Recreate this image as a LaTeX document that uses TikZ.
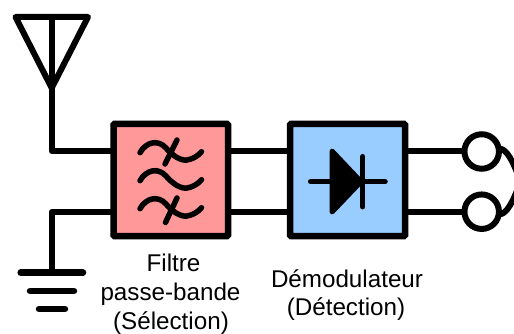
\documentclass[tikz,border=0pt]{standalone}
\usepackage{fontspec}
\usetikzlibrary{calc}
\setmainfont{Liberation Sans}
\tikzset{
  wire/.style={line width=6pt,line cap=round,line join=round},
  thin wire/.style={line width=5.5pt,line cap=round,line join=round},
  block/.style={draw,line width=6.5pt,rounded corners=1pt,inner sep=0pt,outer sep=0pt,anchor=north west},
  terminal/.style={circle,draw,fill=white,line width=6pt,inner sep=0pt,outer sep=0pt,minimum size=34.5pt},
  gndbar/.style={line width=6.5pt,line cap=round},
  label/.style={inner sep=0pt,font=\fontsize{24.2}{24.2}\selectfont}
}
\definecolor{filterred}{RGB}{255,153,153}
\definecolor{demodblue}{RGB}{153,204,255}
\begin{document}
\begin{tikzpicture}[x=1pt,y=-1pt]
\useasboundingbox (0,0) rectangle (514,334);
\fill[white] (0,0) rectangle (514,334);
% named points
\coordinate (apex) at (51.7,88);
\coordinate (antL) at (15.5,17);
\coordinate (antR) at (88,17);
\coordinate (antT) at (51.7,17);
\coordinate (gnd) at (51.7,272.7);
\coordinate (fin1) at (113.5,151);
\coordinate (fin2) at (113.5,211.7);
\coordinate (fout1) at (228,151);
\coordinate (fout2) at (228,211.7);
\coordinate (din1) at (290,151);
\coordinate (din2) at (290,211.7);
\coordinate (dout1) at (405,151);
\coordinate (dout2) at (405,211.7);
% antenna
\draw[wire] (antL) -- (antR) -- (apex) -- cycle;
\draw[wire] (antT) -- (apex);
% wires
\draw[wire] (apex) |- (fin1);
\draw[wire] (gnd) |- (fin2);
\draw[wire] (fout1) -- (din1);
\draw[wire] (fout2) -- (din2);
% blocks
\node[block,fill=filterred,minimum width=114.5pt,minimum height=112pt] (filter) at (113.5,124) {};
\node[block,fill=demodblue,minimum width=115pt,minimum height=112pt] (demod) at (290,124) {};
% loop between terminals
\coordinate (loopU) at (497,149);
\coordinate (loopL) at (497,214);
\coordinate (loopR) at (523,181.5);
\draw[wire,line cap=butt] (loopU) to[out=20,in=-90] (loopR) to[out=90,in=-20] (loopL);
% terminals
\draw[wire] (dout1) -- (481.7,151);
\draw[wire] (dout2) -- (481.7,211.7);
\node[terminal] (t1) at (481.7,151.5) {};
\node[terminal] (t2) at (481.7,211.7) {};
% ground
\draw[gndbar] (20.7,272.7) -- (83,272.7);
\draw[gndbar] (30,291) -- (74,291);
\draw[gndbar] (39,309) -- (65,309);
% filter symbol
\foreach \d in {0,28,56}{
  \draw[thin wire] (140,152.7+\d) .. controls (146,142+\d) and (158,139+\d) .. (166,148+\d)
     .. controls (172,155+\d) and (180,161+\d) .. (187,160+\d) .. controls (193,159+\d) and (198,156+\d) .. (201.5,151.7+\d);
}
\draw[thin wire] (165,164) -- (177,140);
\draw[thin wire] (165.5,222.5) -- (177,198);
% diode
\fill[line width=5pt,draw,line join=round] (332,151) -- (361,181.7) -- (332,212) -- cycle;
\draw[thin wire] (310.7,181.7) -- (385,181.7);
\draw[thin wire] (362.7,156.7) -- (362.7,206.7);
% labels
\node[label] (l1) at (173.5,263) {Filtre};
\node[label] (l2) at (170.5,294) {passe-bande};
\node[label] (l3) at (171,323) {(Sélection)};
\node[label] (l4) at (347,279) {Démodulateur};
\node[label] (l5) at (346,309) {(Détection)};
\end{tikzpicture}
\end{document}
